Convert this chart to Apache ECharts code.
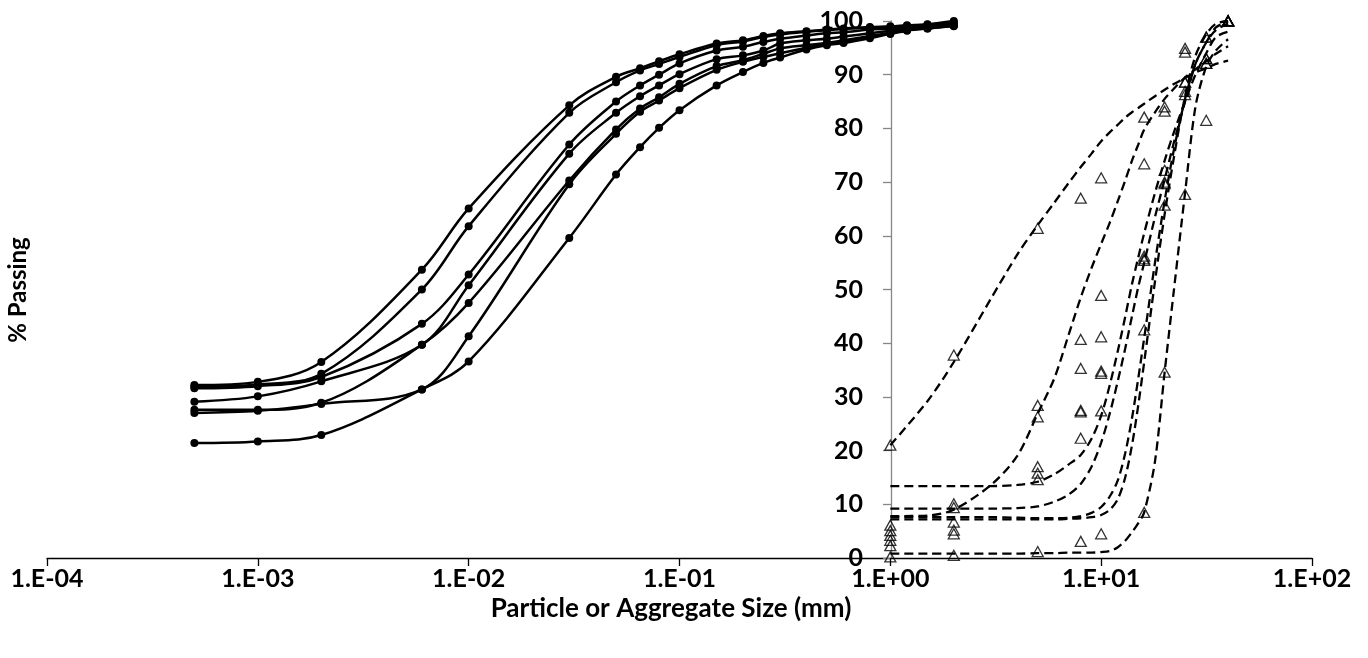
<!DOCTYPE html>
<html>
<head>
<meta charset="utf-8">
<script src="https://cdn.jsdelivr.net/npm/echarts@6/dist/echarts.min.js"></script>
<style>
  html, body { margin: 0; padding: 0; background: #fff; }
  #chart { width: 1368px; height: 658px; }
</style>
</head>
<body>
<div id="chart"></div>
<script>
// ---- Fine soils: particle size (mm) vs % passing (hydrometer + sieve) ----
const fineSizes = [0.0005, 0.001, 0.002, 0.006, 0.01, 0.03, 0.05, 0.065, 0.08, 0.1, 0.15, 0.2, 0.25, 0.3, 0.4, 0.5, 0.6, 0.8, 1, 1.2, 1.5, 2];
const fine1 = [32.2, 32.8, 36.5, 53.7, 65.1, 84.3, 89.6, 91.2, 92.5, 93.8, 95.8, 96.4, 97.2, 97.7, 98.1, 98.4, 98.6, 98.9, 99.0, 99.2, 99.4, 100];
const fine2 = [31.9, 32.3, 34.3, 50.0, 61.8, 82.9, 88.6, 90.8, 92.0, 93.3, 95.5, 96.2, 97.0, 97.5, 98.0, 98.3, 98.5, 98.8, 98.9, 99.1, 99.3, 99.8];
const fine3 = [31.6, 32.0, 33.7, 43.6, 52.8, 77.0, 85.0, 88.0, 90.0, 92.1, 94.5, 95.2, 96.1, 96.7, 97.3, 97.7, 97.9, 98.4, 98.6, 98.9, 99.1, 99.5];
const fine4 = [29.1, 30.1, 32.9, 39.7, 50.8, 75.3, 82.9, 86.0, 88.0, 90.1, 92.9, 93.6, 94.5, 95.8, 96.4, 96.7, 97.1, 97.7, 98.2, 98.6, 98.9, 99.3];
const fine5 = [27.6, 27.6, 28.9, 39.7, 47.5, 70.3, 79.8, 83.7, 85.8, 88.3, 91.6, 92.7, 93.9, 94.9, 95.5, 95.9, 96.4, 97.2, 97.8, 98.4, 98.7, 99.2];
const fine6 = [27.0, 27.4, 28.7, 31.4, 41.3, 69.6, 79.0, 83.1, 85.2, 87.5, 90.9, 92.4, 93.3, 94.0, 95.0, 95.7, 96.2, 97.0, 97.7, 98.3, 98.6, 99.1];
const fine7 = [21.4, 21.7, 22.9, 31.4, 36.6, 59.6, 71.4, 76.5, 80.1, 83.4, 88.0, 90.5, 92.2, 93.2, 94.7, 95.5, 95.9, 96.8, 97.6, 98.2, 98.6, 99.0];

// ---- Aggregates: sieve size (mm) vs % passing ----
const sieveSizes = [1, 2, 5, 8, 10, 16, 20, 25, 31.5, 40];
const agg1 = [21.0, 37.8, 61.4, 67.0, 70.8, 82.1, 84.0, 88.6, 92.1, 100];
const agg2 = [6.1, 10.1, 28.4, 40.7, 48.9, 73.4, 83.2, 94.9, 97.0, 100];
const agg3 = [5.1, 9.4, 26.3, 35.3, 41.2, 56.2, 72.2, 94.2, 97.0, 100];
const agg4 = [4.2, 6.7, 17.0, 27.5, 34.8, 55.7, 70.0, 86.9, 93.0, 100];
const agg5 = [3.3, 5.2, 15.8, 27.2, 34.4, 55.4, 69.7, 86.3, 93.0, 100];
const agg6 = [2.3, 4.5, 14.6, 22.3, 27.4, 42.5, 65.7, 88.6, 92.1, 100];
const agg7 = [0.2, 0.5, 1.2, 3.1, 4.5, 8.5, 34.6, 67.7, 81.5, 100];

// ---- Fitted gradation curves for the aggregates ----
const fitSizes = [1, 1.5, 2, 3, 4, 5, 6, 7, 8, 9, 10, 11, 12, 13, 14, 15, 16, 18, 20, 22, 25, 28, 31.5, 35, 40];
const fit1 = [21.0, 29.2, 36.5, 48.3, 56.5, 62.0, 66.2, 69.8, 72.8, 75.3, 77.6, 79.3, 80.7, 82.0, 83.0, 83.8, 84.6, 86.0, 87.2, 88.2, 89.4, 90.4, 91.2, 92.0, 92.6];
const fit2 = [7.8, 7.9, 9.0, 13.6, 19.0, 26.9, 33.5, 41.5, 48.5, 54.0, 58.5, 62.5, 66.5, 70.3, 74.0, 77.0, 79.8, 83.0, 85.5, 87.3, 89.5, 91.0, 92.5, 93.9, 95.3];
const fit3 = [13.4, 13.4, 13.4, 13.4, 13.6, 14.2, 15.6, 17.4, 19.2, 22.2, 26.5, 32.3, 38.6, 44.9, 51.0, 56.0, 60.5, 68.0, 74.0, 79.0, 85.0, 90.0, 94.0, 97.0, 98.0];
const fit4 = [9.2, 9.2, 9.2, 9.2, 9.3, 9.6, 10.5, 11.8, 13.8, 17.0, 21.5, 27.0, 33.0, 39.0, 45.0, 50.5, 55.0, 63.5, 70.5, 77.0, 85.0, 92.0, 96.0, 98.8, 99.9];
const fit5 = [7.6, 7.6, 7.6, 7.6, 7.5, 7.4, 7.4, 7.5, 7.8, 8.4, 9.5, 11.5, 14.5, 19.5, 26.0, 33.5, 41.0, 55.0, 66.5, 75.5, 85.5, 92.0, 96.0, 98.3, 99.5];
const fit6 = [7.2, 7.2, 7.2, 7.2, 7.2, 7.2, 7.2, 7.3, 7.4, 7.6, 8.0, 9.0, 11.0, 15.0, 21.0, 28.5, 36.5, 51.5, 64.0, 74.0, 86.0, 93.5, 97.5, 99.5, 100];
const fit7 = [0.8, 0.8, 0.8, 0.8, 0.8, 0.9, 0.9, 1.0, 1.0, 1.0, 1.1, 1.3, 2.0, 3.2, 4.8, 6.5, 8.5, 18.0, 34.6, 49.0, 68.0, 84.0, 91.5, 94.5, 96.6];

const xTickLabel = v => {
  const e = Math.round(Math.log10(v));
  const s = e < 0 ? '-' : '+';
  return '1.E' + s + String(Math.abs(e)).padStart(2, '0');
};

const FONT = 'Lato, "Open Sans", sans-serif';
const zip = (xs, ys) => xs.map((x, i) => [x, ys[i]]);

const fineSeries = [fine1, fine2, fine3, fine4, fine5, fine6, fine7].map(ys => ({
  type: 'line',
  data: zip(fineSizes, ys),
  smooth: 0.35,
  symbol: 'circle',
  symbolSize: 8,
  lineStyle: { color: '#000', width: 2.5 },
  itemStyle: { color: '#000' },
  z: 3
}));

const fitSeries = [fit1, fit2, fit3, fit4, fit5, fit6, fit7].map(ys => ({
  type: 'line',
  data: zip(fitSizes, ys),
  smooth: 0.3,
  showSymbol: false,
  lineStyle: { color: '#000', width: 2.3, type: [9, 5] },
  z: 2
}));

const aggSeries = [agg1, agg2, agg3, agg4, agg5, agg6, agg7].map(ys => ({
  type: 'scatter',
  data: zip(sieveSizes, ys),
  symbol: 'triangle',
  symbolSize: [11, 10],
  itemStyle: { color: 'rgba(0,0,0,0)', borderColor: '#000', borderWidth: 1.3 },
  z: 4
}));

const chart = echarts.init(document.getElementById('chart'));
chart.setOption({
  animation: false,
  backgroundColor: '#fff',
  grid: { left: 47, right: 56, top: 21, bottom: 100, containLabel: false, outerBoundsMode: 'none' },
  xAxis: {
    type: 'log',
    logBase: 10,
    min: 0.0001,
    max: 100,
    splitNumber: 6,
    name: 'Particle or Aggregate Size (mm)',
    nameLocation: 'middle',
    nameGap: 36,
    nameTextStyle: { fontFamily: FONT, fontWeight: 'bold', fontSize: 26, color: '#000', padding: [0, 17, 0, 0] },
    axisLine: { onZero: false, lineStyle: { color: '#000', width: 1.3 } },
    axisTick: { show: true, length: 8, lineStyle: { color: '#000', width: 1.3 } },
    minorTick: { show: false },
    splitLine: { show: false },
    axisLabel: { formatter: xTickLabel, margin: 8, fontFamily: FONT, fontWeight: 'bold', fontSize: 25, color: '#000' }
  },
  yAxis: {
    type: 'value',
    min: 0,
    max: 100,
    interval: 10,
    offset: -844,
    axisLine: { show: true, onZero: false, lineStyle: { color: '#868686', width: 1.3 } },
    axisTick: { show: true, length: 8, lineStyle: { color: '#868686', width: 1.3 } },
    splitLine: { show: false },
    axisLabel: { margin: 28, fontFamily: FONT, fontWeight: 'bold', fontSize: 25, color: '#000' }
  },
  graphic: [{
    type: 'text',
    x: 18,
    y: 290,
    rotation: Math.PI / 2,
    style: { text: '% Passing', fontFamily: FONT, fontWeight: 'bold', fontSize: 24, fill: '#000', align: 'center', verticalAlign: 'middle' }
  }],
  series: [...fitSeries, ...fineSeries, ...aggSeries]
});
</script>
</body>
</html>
